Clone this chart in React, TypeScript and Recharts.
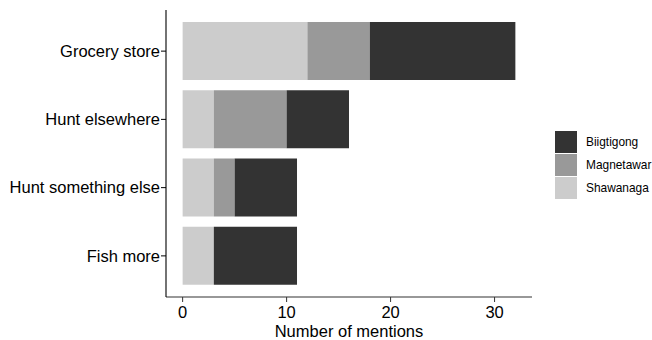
import { BarChart, Bar, XAxis, YAxis, Label } from "recharts";

const categories = ["Grocery store", "Hunt elsewhere", "Hunt something else", "Fish more"];
const shawanaga = [12, 3, 3, 3];
const magnetawar = [6, 7, 2, 0];
const biigtigong = [14, 6, 6, 8];
const xTicks = [0, 10, 20, 30];

const SERIES = [
  { key: "Shawanaga", values: shawanaga, color: "#CCCCCC" },
  { key: "Magnetawar", values: magnetawar, color: "#999999" },
  { key: "Biigtigong", values: biigtigong, color: "#333333" },
];

const data = categories.map((name, i) => ({
  name,
  Shawanaga: shawanaga[i],
  Magnetawar: magnetawar[i],
  Biigtigong: biigtigong[i],
}));

const FONT = '"Liberation Sans", Arial, sans-serif';
const tick = { fontSize: 16.5, fill: "#000", fontFamily: FONT };

export default function App() {
  const legendItems = [...SERIES].reverse();
  return (
    <div style={{ position: "absolute", left: 0, top: 0, width: 652, height: 340, background: "#fff" }}>
      <BarChart
        width={652}
        height={340}
        data={data}
        layout="vertical"
        margin={{ top: 10, right: 120, bottom: 0, left: 0 }}
        barSize={58}
      >
        <XAxis
          type="number"
          domain={[-1.6, 33.6]}
          ticks={xTicks}
          allowDataOverflow
          height={43}
          tickSize={5}
          tickMargin={4}
          tick={tick}
          stroke="#333"
          axisLine={{ stroke: "#333", strokeWidth: 1.1 }}
          tickLine={{ stroke: "#333" }}
        >
          <Label
            value="Number of mentions"
            position="insideBottom"
            offset={3}
            style={{ fontSize: 16.5, fill: "#000", fontFamily: FONT }}
          />
        </XAxis>
        <YAxis
          type="category"
          dataKey="name"
          width={166}
          tickSize={5}
          tickMargin={1}
          tick={tick}
          padding={{ top: 7, bottom: 7 }}
          axisLine={{ stroke: "#000", strokeWidth: 1.1 }}
          tickLine={{ stroke: "#000" }}
        />
        {SERIES.map((s) => (
          <Bar key={s.key} dataKey={s.key} stackId="a" fill={s.color} isAnimationActive={false} />
        ))}
      </BarChart>
      <div
        style={{
          position: "absolute",
          left: 555,
          top: 130,
          fontFamily: FONT,
          fontSize: 11.9,
          color: "#000",
          whiteSpace: "nowrap",
        }}
      >
        {legendItems.map((s) => (
          <div key={s.key} style={{ display: "flex", alignItems: "center", height: 23 }}>
            <div style={{ width: 22, height: 22, background: s.color, marginRight: 9 }} />
            <span>{s.key}</span>
          </div>
        ))}
      </div>
    </div>
  );
}
